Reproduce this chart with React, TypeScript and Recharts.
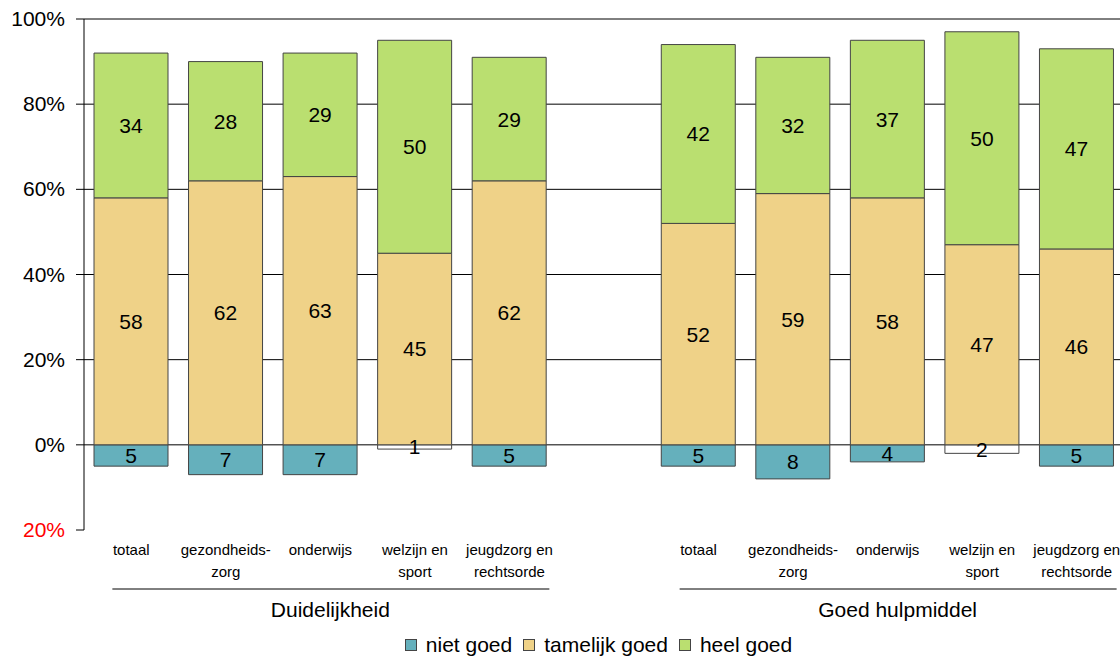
import React from "react";
import {
  BarChart,
  Bar,
  XAxis,
  YAxis,
  CartesianGrid,
  LabelList,
  Cell,
} from "recharts";

// categorie-id's (11 plekken, de middelste is een lege tussenruimte)
const CATEGORY_IDS = [
  "d-totaal", "d-gezond", "d-onderwijs", "d-welzijn", "d-jeugd",
  "gap",
  "g-totaal", "g-gezond", "g-onderwijs", "g-welzijn", "g-jeugd",
];

const CATEGORY_LABELS: string[][] = [
  ["totaal"], ["gezondheids-", "zorg"], ["onderwijs"], ["welzijn en", "sport"], ["jeugdzorg en", "rechtsorde"],
  [],
  ["totaal"], ["gezondheids-", "zorg"], ["onderwijs"], ["welzijn en", "sport"], ["jeugdzorg en", "rechtsorde"],
];

// groepslabel hangt onder de middelste categorie van elke groep
const GROUP_LABELS: Record<string, string> = {
  "d-onderwijs": "Duidelijkheid",
  "g-onderwijs": "Goed hulpmiddel",
};

const NIET_GOED = [5, 7, 7, 1, 5, 0, 5, 8, 4, 2, 5];
const TAMELIJK_GOED = [58, 62, 63, 45, 62, 0, 52, 59, 58, 47, 46];
const HEEL_GOED = [34, 28, 29, 50, 29, 0, 42, 32, 37, 50, 47];

const Y_TICKS = [-20, 0, 20, 40, 60, 80, 100];
const GRID_VALUES = [0, 20, 40, 60, 80, 100];

const COLORS = {
  niet: "#65B0BC",
  tamelijk: "#EFD288",
  heel: "#BADF70",
};

const FONT = '"Liberation Sans", Arial, Helvetica, sans-serif';

const data = CATEGORY_IDS.map((id, i) => ({
  id,
  niet: -NIET_GOED[i],
  tamelijk: TAMELIJK_GOED[i],
  heel: HEEL_GOED[i],
}));

const fmt = (v: any) => {
  const n = Math.abs(Number(v));
  return n ? String(n) : "";
};

function YTick({ x, y, payload }: any) {
  const v = payload.value;
  return (
    <text
      x={x}
      y={y}
      dy={7}
      textAnchor="end"
      fontSize={21}
      fontFamily={FONT}
      fill={v < 0 ? "#FF0000" : "#000"}
    >
      {Math.abs(v)}%
    </text>
  );
}

function XTick({ x, y, payload }: any) {
  const idx = CATEGORY_IDS.indexOf(payload.value);
  const lines = CATEGORY_LABELS[idx] || [];
  const group = GROUP_LABELS[payload.value];
  return (
    <g>
      {lines.map((l, i) => (
        <text
          key={i}
          x={x}
          y={y + 25 + i * 22}
          textAnchor="middle"
          fontSize={15}
          fontFamily={FONT}
          fill="#000"
        >
          {l}
        </text>
      ))}
      {group && (
        <>
          <line x1={x - 208} x2={x + 229} y1={y + 59} y2={y + 59} stroke="#000" strokeWidth={1} />
          <text
            x={x + 10}
            y={y + 87}
            textAnchor="middle"
            fontSize={21}
            fontFamily={FONT}
            fill="#000"
          >
            {group}
          </text>
        </>
      )}
    </g>
  );
}

const LEGEND = [
  { key: "niet", label: "niet goed" },
  { key: "tamelijk", label: "tamelijk goed" },
  { key: "heel", label: "heel goed" },
];

export default function App() {
  return (
    <div
      style={{
        position: "absolute",
        top: 0,
        left: 0,
        width: 1120,
        height: 657,
        overflow: "hidden",
        background: "#fff",
        fontFamily: FONT,
      }}
    >
      <BarChart
        width={1140}
        height={657}
        data={data}
        stackOffset="sign"
        margin={{ top: 19, right: 16, left: 0, bottom: 0 }}
        barSize={74}
      >
        <CartesianGrid
          horizontal
          vertical={false}
          stroke="#000"
          horizontalValues={GRID_VALUES}
        />
        <XAxis
          dataKey="id"
          axisLine={false}
          tickLine={false}
          tickSize={0}
          tickMargin={0}
          height={127}
          interval={0}
          tick={<XTick />}
        />
        <YAxis
          domain={[-20, 100]}
          ticks={Y_TICKS}
          width={84}
          axisLine={{ stroke: "#000" }}
          tickLine={{ stroke: "#000" }}
          tickSize={8}
          tickMargin={11}
          tick={<YTick />}
          interval={0}
        />
        <Bar dataKey="niet" stackId="a" fill={COLORS.niet} stroke="#444" strokeWidth={1} isAnimationActive={false}>
          {data.map((d, i) => (
            <Cell key={i} fill={Math.abs(d.niet) <= 2 ? "#FFFFFF" : COLORS.niet} />
          ))}
          <LabelList dataKey="niet" position="center" formatter={fmt} fill="#000" fontSize={21} fontFamily={FONT} />
        </Bar>
        <Bar dataKey="tamelijk" stackId="a" fill={COLORS.tamelijk} stroke="#444" strokeWidth={1} isAnimationActive={false}>
          <LabelList dataKey="tamelijk" position="center" formatter={fmt} fill="#000" fontSize={21} fontFamily={FONT} />
        </Bar>
        <Bar dataKey="heel" stackId="a" fill={COLORS.heel} stroke="#444" strokeWidth={1} isAnimationActive={false}>
          <LabelList dataKey="heel" position="center" formatter={fmt} fill="#000" fontSize={21} fontFamily={FONT} />
        </Bar>
      </BarChart>

      {/* Legenda */}
      <div
        style={{
          position: "absolute",
          left: 84,
          width: 1040,
          top: 632,
          display: "flex",
          justifyContent: "center",
          alignItems: "center",
          fontSize: 21,
          lineHeight: "26px",
          color: "#000",
        }}
      >
        {LEGEND.map((item) => (
          <div key={item.key} style={{ display: "flex", alignItems: "center", marginRight: 11 }}>
            <div
              style={{
                width: 10,
                height: 10,
                border: "1px solid #444",
                background: COLORS[item.key as keyof typeof COLORS],
                marginRight: 9,
              }}
            />
            <span>{item.label}</span>
          </div>
        ))}
      </div>
    </div>
  );
}
